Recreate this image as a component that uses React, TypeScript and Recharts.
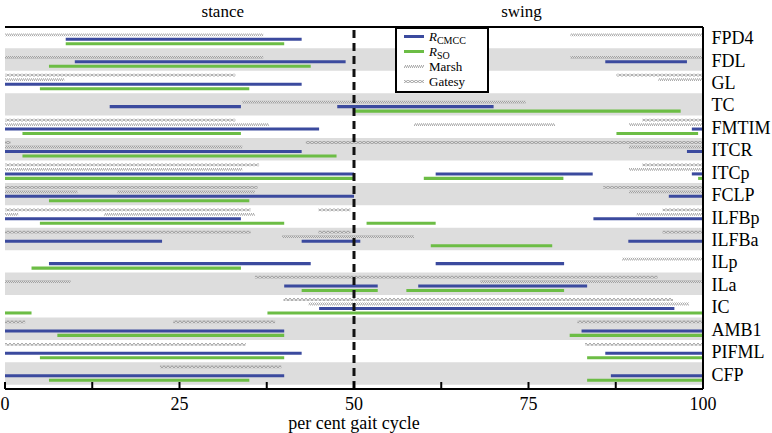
import React from 'react';
import { ComposedChart, XAxis, YAxis, ReferenceArea, ReferenceLine, Legend } from 'recharts';

type Seg = [number, number];

const muscles = ['FPD4', 'FDL', 'GL', 'TC', 'FMTIM', 'ITCR', 'ITCp', 'FCLP', 'ILFBp', 'ILFBa', 'ILp', 'ILa', 'IC', 'AMB1', 'PIFML', 'CFP'];

// R_CMCC activation periods (per cent gait cycle)
const cmcc: Seg[][] = [
  [[8.7, 42.5]],
  [[10, 48.8], [86, 97.7]],
  [[0, 42.5]],
  [[15, 33.8], [47.6, 70]],
  [[0, 45], [98.4, 100]],
  [[0, 42.5], [97.7, 100]],
  [[0, 50], [61.7, 84.2], [98.4, 100]],
  [[0, 50], [95.1, 100]],
  [[0, 33.8], [84.3, 100]],
  [[0, 22.5], [42.5, 50.9], [89.3, 100]],
  [[6.3, 43.8], [61.7, 80.1]],
  [[40, 53.4], [59.2, 83.4]],
  [[45, 95.9]],
  [[0, 40], [82.6, 100]],
  [[0, 42.5], [86, 100]],
  [[0, 40], [86.8, 100]],
];

// R_SO activation periods
const so: Seg[][] = [
  [[8.7, 40]],
  [[6.3, 43.8]],
  [[5, 35]],
  [[50, 96.8]],
  [[2.5, 33.8], [87.6, 99.3]],
  [[2.5, 47.5]],
  [[0, 50], [60, 80], [99.3, 100]],
  [[6.3, 35]],
  [[5, 40], [51.8, 61.7]],
  [[61, 78.4]],
  [[3.8, 33.8]],
  [[42.5, 53.4], [57.5, 80.1]],
  [[0, 3.8], [37.6, 100]],
  [[7.5, 40], [80.9, 100]],
  [[5, 40], [83.4, 100]],
  [[6.3, 35], [83.4, 100]],
];

// Marsh EMG periods
const marsh: Seg[][] = [
  [[0, 37], [81, 100]],
  [[0, 37], [81, 100]],
  [[0, 8.5], [93.6, 100]],
  [[34, 74.6]],
  [[0, 37.8], [58.6, 78.8], [89.4, 100]],
  [[0, 34], [89.4, 100]],
  [[0, 34], [89.4, 100]],
  [[0, 10.4], [16.1, 35.8], [89.4, 100]],
  [[0, 1.9], [14.2, 35.8], [90.5, 100]],
  [[39.7, 58.6]],
  [[88.4, 100]],
  [[0, 9.4], [68.1, 100]],
  [[43.5, 98]],
  [],
  [],
  [],
];

// Gatesy EMG periods
const gatesy: Seg[][] = [
  [],
  [],
  [[0, 33], [87.6, 100]],
  [],
  [[0, 33], [91.3, 100]],
  [[0, 0.8], [43.1, 100]],
  [[0, 36.4], [91.3, 100]],
  [[0, 36.2], [85.7, 100]],
  [[0, 35.2], [44.9, 49.5], [94.2, 100]],
  [[0, 35.2], [44.9, 49.5], [94.2, 100]],
  [],
  [[35.8, 93.5]],
  [[39.9, 95.7]],
  [[0, 2.9], [24.1, 38.7], [82, 100]],
  [[0, 34.5], [83.1, 100]],
  [[22.2, 39.6]],
];

const xTicks = [0, 12.5, 25, 37.5, 50, 62.5, 75, 87.5, 100];
const xLabelTicks = [0, 25, 50, 75, 100];
const phaseLabels = ['stance', 'swing'];
const phaseCenters = [31.2, 74];
const legendNames = ['CMCC', 'SO', 'Marsh', 'Gatesy'];

const FONT = "'Liberation Serif', 'Times New Roman', serif";
const BLUE = '#3b4a9e';
const GREEN = '#6cbd45';
const BAND = '#dddddd';
const HATCH = '#8f8f8f';

const seriesDefs = [
  { key: 'gatesy', data: gatesy, offset: 0.2, fill: 'url(#gatesyHatch)', half: 0.062 },
  { key: 'marsh', data: marsh, offset: 0.4, fill: 'url(#marshHatch)', half: 0.062 },
  { key: 'cmcc', data: cmcc, offset: 0.6, fill: BLUE, half: 0.068 },
  { key: 'so', data: so, offset: 0.8, fill: GREEN, half: 0.068 },
];

const BottomTick = (props: any) => {
  const { x, y, payload } = props;
  const v = payload.value;
  return (
    <g>
      <line x1={x} x2={x} y1={y} y2={y - 7} stroke="#000" strokeWidth={2} />
      {xLabelTicks.includes(v) && (
        <text x={x} y={y + 21} textAnchor="middle" fontFamily={FONT} fontSize={18} fill="#000">
          {v}
        </text>
      )}
    </g>
  );
};

const TopTick = (props: any) => {
  const { x, y, index } = props;
  return (
    <text x={x} y={y - 10} textAnchor="middle" fontFamily={FONT} fontSize={17} fill="#000">
      {phaseLabels[index]}
    </text>
  );
};

const RightTick = (props: any) => {
  const { x, y, payload } = props;
  const idx = Math.round(payload.value - 0.5);
  return (
    <text x={x + 8.5} y={y} dy={7} textAnchor="start" fontFamily={FONT} fontSize={18} fill="#000">
      {muscles[idx]}
    </text>
  );
};

const Sample = ({ kind }: { kind: number }) => (
  <svg width={20} height={15} style={{ display: 'block' }}>
    {kind === 0 && <rect x={0} y={6} width={20} height={3} fill={BLUE} />}
    {kind === 1 && <rect x={0} y={6} width={20} height={3} fill={GREEN} />}
    {kind === 2 && <rect x={0} y={6} width={20} height={3} fill="url(#marshHatch)" />}
    {kind === 3 && <rect x={0} y={6} width={20} height={3} fill="url(#gatesyHatch)" />}
  </svg>
);

const LegendBox = () => (
  <div
    style={{
      boxSizing: 'border-box',
      width: 94,
      height: 66,
      border: '2px solid #000',
      background: '#fff',
      padding: '0 0 0 7px',
      fontFamily: FONT,
      fontSize: 13,
      color: '#000',
    }}
  >
    {legendNames.map((n, i) => (
      <div key={n} style={{ display: 'flex', alignItems: 'center', height: 15, lineHeight: '15px' }}>
        <Sample kind={i} />
        <span style={{ marginLeft: 5, whiteSpace: 'nowrap' }}>
          {i < 2 ? (
            <>
              <span style={{ fontStyle: 'italic' }}>R</span>
              <span style={{ fontSize: 10, position: 'relative', top: 3 }}>{n}</span>
            </>
          ) : (
            n
          )}
        </span>
      </div>
    ))}
  </div>
);

export default function App() {
  const yDomain: [number, number] = [0.05, 16.19];
  return (
    <div style={{ position: 'absolute', left: 0, top: 0, width: 772, height: 433, background: '#fff' }}>
      <svg width={0} height={0} style={{ position: 'absolute' }}>
        <defs>
          <pattern id="marshHatch" patternUnits="userSpaceOnUse" width={2} height={3}>
            <path d="M0,3 L2,0" stroke={HATCH} strokeWidth={0.9} />
          </pattern>
          <pattern id="gatesyHatch" patternUnits="userSpaceOnUse" width={4} height={3}>
            <path d="M0,0 L4,3 M0,3 L4,0" stroke={HATCH} strokeWidth={0.8} />
          </pattern>
        </defs>
      </svg>
      <ComposedChart width={772} height={433} margin={{ top: 0, right: 0, bottom: 0, left: 5 }} data={[]}>
        {muscles.map((m, i) =>
          i % 2 === 1 ? (
            <ReferenceArea
              key={'band' + m}
              x1={0}
              x2={100}
              y1={i}
              y2={i + 1}
              fill={BAND}
              fillOpacity={1}
              stroke="none"
              ifOverflow="visible"
            />
          ) : null
        )}
        {seriesDefs.map((s) =>
          s.data.map((segs, row) =>
            segs.map((seg, j) => (
              <ReferenceArea
                key={`${s.key}-${row}-${j}`}
                x1={seg[0]}
                x2={seg[1]}
                y1={row + s.offset - s.half}
                y2={row + s.offset + s.half}
                fill={s.fill}
                fillOpacity={1}
                stroke="none"
                ifOverflow="visible"
              />
            ))
          )
        )}
        <ReferenceLine x={50} stroke="#111" strokeWidth={3} strokeDasharray="8 5" ifOverflow="visible" />
        <XAxis
          type="number"
          dataKey="x"
          domain={[0, 100]}
          allowDataOverflow
          ticks={xTicks}
          interval={0}
          height={44}
          tickSize={0}
          tickMargin={0}
          tickLine={false}
          tick={<BottomTick />}
          axisLine={{ stroke: '#000', strokeWidth: 2 }}
          label={{ value: 'per cent gait cycle', position: 'insideBottom', offset: 4, fontFamily: FONT, fontSize: 18, fill: '#000' }}
        />
        <XAxis
          xAxisId="t"
          orientation="top"
          type="number"
          dataKey="x"
          domain={[0, 100]}
          allowDataOverflow
          ticks={phaseCenters}
          interval={0}
          height={27}
          tickSize={0}
          tickMargin={0}
          tickLine={false}
          tick={<TopTick />}
          axisLine={{ stroke: '#000', strokeWidth: 2 }}
        />
        <YAxis
          type="number"
          orientation="right"
          domain={yDomain}
          allowDataOverflow
          reversed
          width={69}
          ticks={muscles.map((_, i) => i + 0.5)}
          interval={0}
          tickSize={0}
          tickMargin={0}
          tickLine={false}
          tick={<RightTick />}
          axisLine={{ stroke: '#000', strokeWidth: 2 }}
        />
        <YAxis
          yAxisId="l"
          type="number"
          orientation="left"
          domain={yDomain}
          allowDataOverflow
          reversed
          width={0}
          tick={false}
          tickLine={false}
          axisLine={{ stroke: '#000', strokeWidth: 2 }}
        />
        <Legend
          layout="vertical"
          align="center"
          verticalAlign="middle"
          content={<LegendBox />}
          wrapperStyle={{ left: 395, top: 27, width: 94, height: 66 }}
        />
      </ComposedChart>
    </div>
  );
}
